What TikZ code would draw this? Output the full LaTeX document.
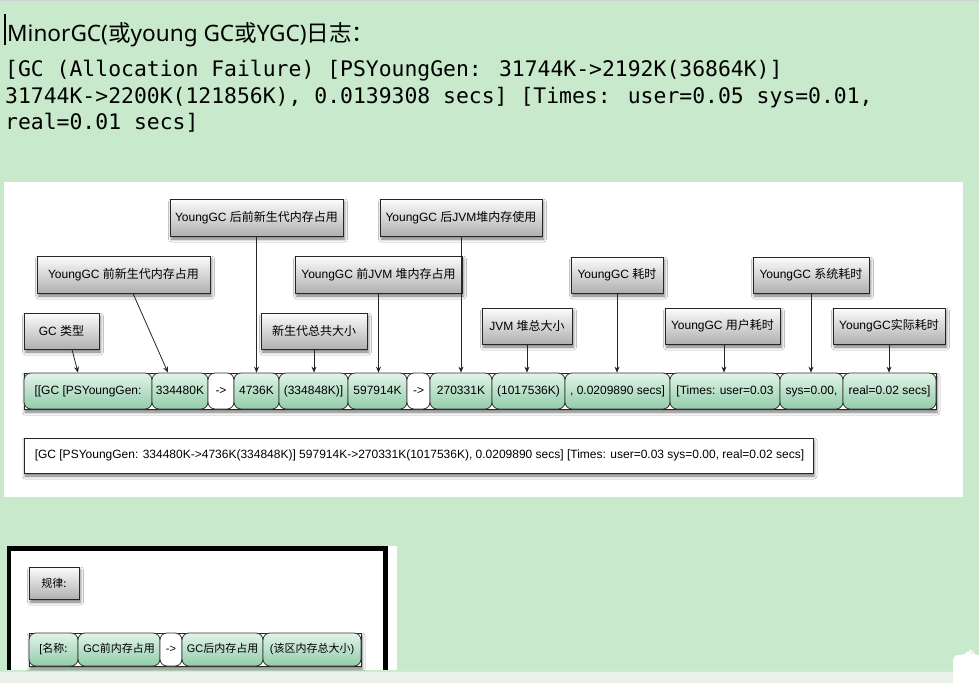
\documentclass[tikz,border=0pt]{standalone}
\usepackage{fontspec}
\setmainfont{Liberation Sans}
\newfontfamily\cjk{Noto Sans CJK SC}
\newfontfamily\headlatin{Noto Sans}
\newfontfamily\monofam{DejaVu Sans Mono}
\usetikzlibrary{arrows.meta,shadows.blur,calc}

\definecolor{pagegreen}{RGB}{200,233,203}
\definecolor{stripgray}{RGB}{234,240,234}
\definecolor{segtop}{RGB}{226,244,232}
\definecolor{segbot}{RGB}{146,204,170}
\definecolor{boxtop}{RGB}{252,252,252}
\definecolor{boxbot}{RGB}{176,176,176}

\tikzset{
  callout/.style={draw=black!85, line width=0.9pt, top color=boxtop, bottom color=boxbot,
    inner sep=0pt, font=\fontsize{12}{14}\selectfont,
    blur shadow={shadow xshift=1.5pt, shadow yshift=-3pt, shadow blur radius=3pt, shadow opacity=55}},
  seg/.style={draw=black!80, line width=0.8pt, rounded corners=7pt, top color=segtop,
    bottom color=segbot, inner sep=0pt, font=\fontsize{12}{14}\selectfont,
    text height=8.6pt, text depth=2.5pt},
  segw/.style={seg, top color=white, bottom color=white},
  conn/.style={draw=black!85, line width=0.8pt, -{Stealth[length=6pt,width=5pt]}},
  framebar/.style={draw=black!85, line width=0.9pt, fill=white,
    blur shadow={shadow xshift=1pt, shadow yshift=-3pt, shadow blur radius=3pt, shadow opacity=55}},
  rawline/.style={anchor=base west, inner sep=0pt, font=\monofam\fontsize{21.4}{26}\selectfont},
}

% callout box given by its left, right, top and bottom edges
\newcommand\callbox[6]{\node[callout, minimum width={#3-#2}, minimum height={#5-#4}]
  (#1) at ({(#2+#3)/2},{(#4+#5)/2}) {#6};}
% one rounded field of a log bar: name, left, right, centre y, height, style, text
\newcommand\segbox[7]{\node[#6, minimum width={#3-#2}, minimum height={#5}]
  (#1) at ({(#2+#3)/2},#4) {#7};}

\begin{document}
\begin{tikzpicture}[x=1pt,y=-1pt]
\useasboundingbox (0,0) rectangle (979,683);
\fill[pagegreen] (0,0) rectangle (979,683);
\draw[black!18, line width=1.2pt] (0,0.6) -- (979,0.6);

% heading and the raw log line
\draw[black, line width=1.4pt] (5,14) -- (5,45);
\node[anchor=base west, inner sep=0pt, font=\fontsize{22.6}{26}\selectfont] (title) at (7,41)
  {{\headlatin MinorGC(}{\cjk 或}{\headlatin young GC}{\cjk 或}{\headlatin YGC)}{\cjk 日志：}};
\node[rawline] (raw1) at (5,76)
  {[GC (Allocation Failure) [PSYoungGen: 31744K->2192K(36864K)]};
\node[rawline] (raw2) at (5,103)
  {31744K->2200K(121856K), 0.0139308 secs] [Times: user=0.05 sys=0.01,};
\node[rawline] (raw3) at (5,129)
  {real=0.01 secs]};

% white panel of the annotated diagram
\fill[white] (4,182) rectangle (963,497);

% callouts
\callbox{cA}{170}{343}{199}{236}{YoungGC {\cjk 后前新生代内存占用}}
\callbox{cB}{380}{542}{199}{236}{YoungGC {\cjk 后}JVM{\cjk 堆内存使用}}
\callbox{cC}{37}{210}{256}{293}{YoungGC {\cjk 前新生代内存占用}}
\callbox{cD}{295}{462}{256}{293}{YoungGC {\cjk 前}JVM {\cjk 堆内存占用}}
\callbox{cE}{571}{663}{257}{293}{YoungGC {\cjk 耗时}}
\callbox{cF}{753}{869}{257}{293}{YoungGC {\cjk 系统耗时}}
\callbox{cG}{24}{99}{313}{349}{GC {\cjk 类型}}
\callbox{cH}{261}{367}{313}{349}{{\cjk 新生代总共大小}}
\callbox{cI}{482}{572}{308}{344}{JVM {\cjk 堆总大小}}
\callbox{cJ}{665}{780}{308}{344}{YoungGC {\cjk 用户耗时}}
\callbox{cK}{833}{945}{308}{344}{YoungGC{\cjk 实际耗时}}

% annotated log bar
\node[framebar, minimum width=912, minimum height=36, inner sep=0pt] (bar) at (480,391) {};
\segbox{s1}{24}{152}{391}{36}{seg}{[[GC [PSYoungGen:}
\segbox{s2}{152}{208}{391}{36}{seg}{334480K}
\segbox{s3}{208}{234}{391}{36}{segw}{->}
\segbox{s4}{234}{279}{391}{36}{seg}{4736K}
\segbox{s5}{279}{348}{391}{36}{seg}{(334848K)]}
\segbox{s6}{348}{407}{391}{36}{seg}{597914K}
\segbox{s7}{407}{430}{391}{36}{segw}{->}
\segbox{s8}{430}{492}{391}{36}{seg}{270331K}
\segbox{s9}{492}{565}{391}{36}{seg}{(1017536K)}
\segbox{s10}{565}{670}{391}{36}{seg}{, 0.0209890 secs]}
\segbox{s11}{670}{780}{391}{36}{seg}{[Times: user=0.03}
\segbox{s12}{780}{843}{391}{36}{seg}{sys=0.00,}
\segbox{s13}{843}{936}{391}{36}{seg}{real=0.02 secs]}

% connectors from callouts to fields
\draw[conn] ($(cG.south)+(10.5,0)$) -- ($(s1.north)+(-10,0)$);
\draw[conn] ($(cC.south)+(9.5,0)$) -- ($(s2.north)+(-12,0)$);
\draw[conn] (cA.south) -- (cA.south |- s4.north);
\draw[conn] (cH.south) -- (cH.south |- s5.north);
\draw[conn] (cD.south) -- (cD.south |- s6.north);
\draw[conn] (cB.south) -- (cB.south |- s8.north);
\draw[conn] (cI.south) -- (cI.south |- s9.north);
\draw[conn] (cE.south) -- (cE.south |- s10.north);
\draw[conn] ($(cJ.south)+(1.5,0)$) -- ($(cJ.south |- s11.north)+(1.5,0)$);
\draw[conn] (cF.south) -- (cF.south |- s12.north);
\draw[conn] (cK.south) -- (cK.south |- s13.north);

% plain log line
\node[framebar, minimum width=789, minimum height=35, inner sep=0pt] (logbox) at (418.5,455.5) {};
\node[anchor=west, inner sep=0pt, font=\fontsize{12}{14}\selectfont] (logtext) at ($(logbox.west)+(11,0)$)
  {[GC [PSYoungGen: 334480K->4736K(334848K)] 597914K->270331K(1017536K), 0.0209890 secs] [Times: user=0.03 sys=0.00, real=0.02 secs]};

% pattern panel
\fill[white] (7,546) rectangle (397,670);
\draw[black, line width=5pt] (7,548.5) -- (388,548.5);
\draw[black, line width=4pt] (9,546) -- (9,670);
\draw[black, line width=5pt] (385.5,546) -- (385.5,670);
\callbox{cR}{29}{79}{567}{599}{{\cjk\fontsize{11}{13}\selectfont 规律:}}
\node[framebar, minimum width=332, minimum height=33, inner sep=0pt] (bar2) at (195,649.5) {};
\segbox{p1}{29}{78}{649.5}{33}{seg}{\fontsize{11}{13}\selectfont[{\cjk 名称:}}
\segbox{p2}{78}{160}{649.5}{33}{seg}{\fontsize{11}{13}\selectfont GC{\cjk 前内存占用}}
\segbox{p3}{160}{182}{649.5}{33}{segw}{\fontsize{11}{13}\selectfont ->}
\segbox{p4}{182}{263}{649.5}{33}{seg}{\fontsize{11}{13}\selectfont GC{\cjk 后内存占用}}
\segbox{p5}{263}{361}{649.5}{33}{seg}{\fontsize{11}{13}\selectfont ({\cjk 该区内存总大小})}

% window strip at the bottom
\fill[stripgray] (0,671) rectangle (979,683);
\draw[black!12, line width=0.8pt] (0,671) -- (979,671);
\fill[white, rounded corners=5pt] (953,690) -- (953,655) -- (966,655) -- (969,649) -- (973,651) -- (972,655) -- (985,655) -- (985,690) -- cycle;
\end{tikzpicture}
\end{document}
